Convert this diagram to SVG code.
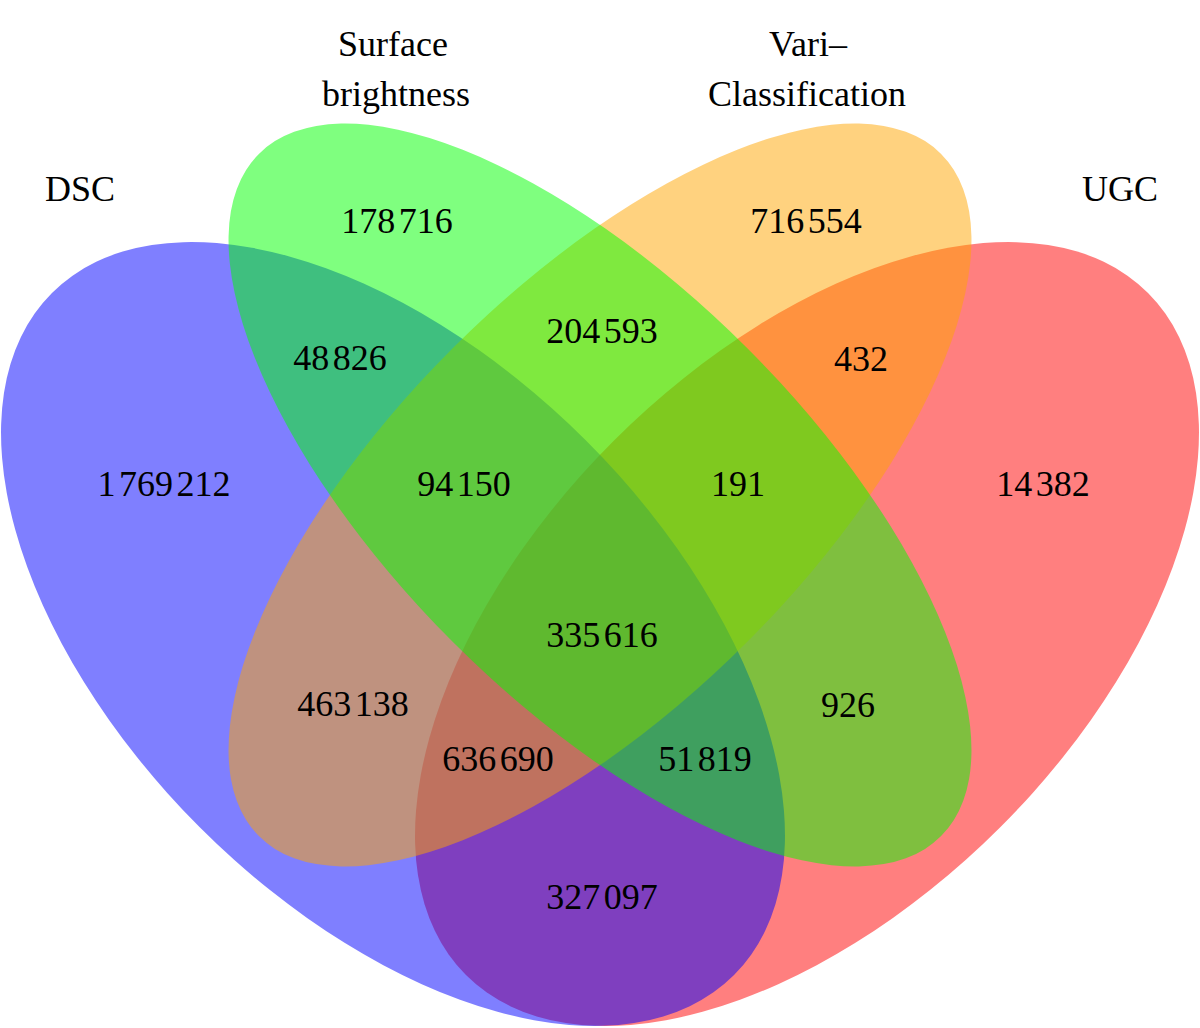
<svg xmlns="http://www.w3.org/2000/svg" width="1200" height="1028" viewBox="0 0 1200 1028">
<style>
.set{fill-opacity:0.5;stroke:none}
text{font-family:"Liberation Serif","Times New Roman",serif;font-size:36px;fill:#000;text-anchor:middle}
.s{font-size:14px}
</style>
<rect width="1200" height="1028" fill="#fff"/>
<g id="sets">
<g id="ugc"><ellipse class="set" cx="807" cy="634" rx="482.3" ry="273.3" fill="#FF0000" transform="rotate(-45 807 634)"/></g>
<g id="dsc"><ellipse class="set" cx="393" cy="634" rx="482.3" ry="273.3" fill="#0000FF" transform="rotate(45 393 634)"/></g>
<g id="vari"><ellipse class="set" cx="600" cy="495" rx="482.4" ry="208" fill="#FFA500" transform="rotate(-45 600 495)"/></g>
<g id="surface"><ellipse class="set" cx="600" cy="495" rx="482.4" ry="208" fill="#00FF00" transform="rotate(45 600 495)"/></g>
</g>
<g id="labels">
<text x="80" y="201">DSC</text>
<text x="1120" y="201">UGC</text>
<text x="393" y="56">Surface</text>
<text x="396" y="106">brightness</text>
<text x="808" y="56">Vari–</text>
<text x="807" y="106">Classification</text>
</g>
<g id="counts">
<text x="397" y="233">178<tspan class="s"> </tspan>716</text>
<text x="806" y="233">716<tspan class="s"> </tspan>554</text>
<text x="340" y="370">48<tspan class="s"> </tspan>826</text>
<text x="602" y="343">204<tspan class="s"> </tspan>593</text>
<text x="861" y="371">432</text>
<text x="164" y="496">1<tspan class="s"> </tspan>769<tspan class="s"> </tspan>212</text>
<text x="464" y="496">94<tspan class="s"> </tspan>150</text>
<text x="738" y="496">191</text>
<text x="1043" y="496">14<tspan class="s"> </tspan>382</text>
<text x="602" y="647">335<tspan class="s"> </tspan>616</text>
<text x="353" y="716">463<tspan class="s"> </tspan>138</text>
<text x="848" y="717">926</text>
<text x="498" y="771">636<tspan class="s"> </tspan>690</text>
<text x="705" y="771">51<tspan class="s"> </tspan>819</text>
<text x="602" y="909">327<tspan class="s"> </tspan>097</text>
</g>
</svg>
